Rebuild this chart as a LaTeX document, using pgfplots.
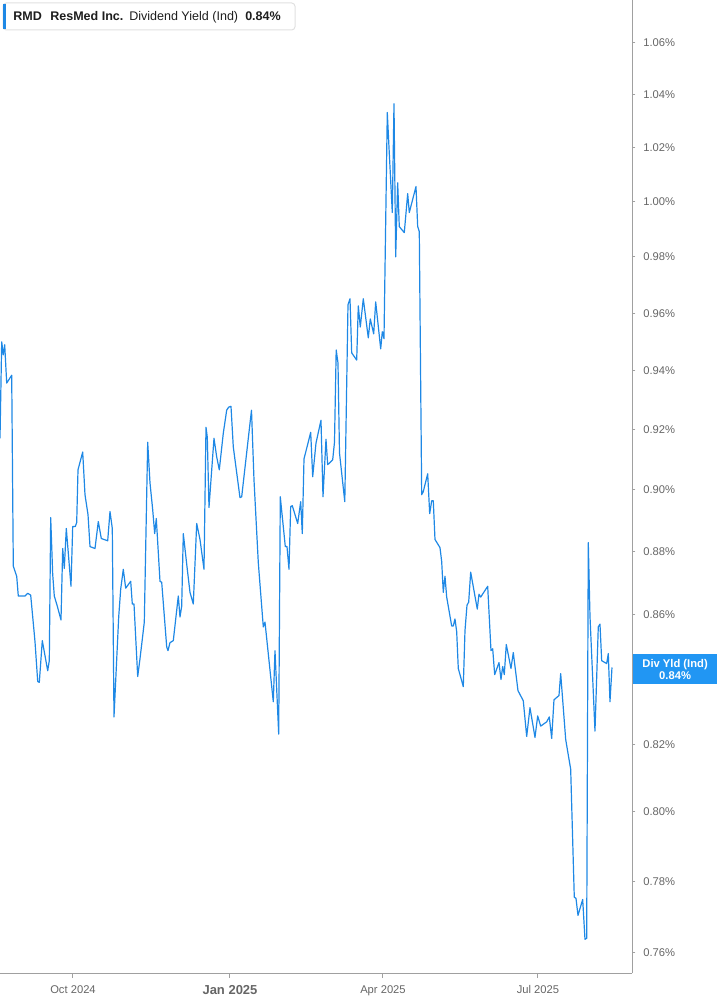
\documentclass[border=0pt]{standalone}
\usepackage{pgfplots}
\pgfplotsset{compat=1.18}
\usepackage{fontspec}
\setmainfont{Liberation Sans}
\definecolor{linecol}{RGB}{30,136,229}
\definecolor{boxcol}{RGB}{33,150,243}
\definecolor{tickgray}{RGB}{102,102,102}
\definecolor{axgray}{RGB}{160,160,160}
\definecolor{legline}{RGB}{225,225,225}
\definecolor{txtdark}{RGB}{30,30,30}

\begin{document}
\begin{tikzpicture}
\begin{axis}[
  scale only axis,
  width=474.2pt,
  height=730pt,
  xmin=0, xmax=632.3,
  ymode=log,
  ymin=0.7542, ymax=1.0765,
  axis x line*=bottom,
  axis y line*=right,
  axis line style={axgray, line width=0.9pt},
  tick align=outside,
  xtick={73,230,383,538},
  xticklabels={Oct 2024,{\fontsize{9.75}{10}\selectfont\bfseries Jan 2025},Apr 2025,Jul 2025},
  ytick={0.76,0.78,0.80,0.82,0.84,0.86,0.88,0.90,0.92,0.94,0.96,0.98,1.00,1.02,1.04,1.06},
  % the 0.84% label sits under the value tag, so it is left empty
  yticklabels={0.76\%,0.78\%,0.80\%,0.82\%,{},0.86\%,0.88\%,0.90\%,0.92\%,0.94\%,0.96\%,0.98\%,1.00\%,1.02\%,1.04\%,1.06\%},
  minor tick num=0,
  xtick style={axgray, line width=0.75pt, /pgfplots/major tick length=3.75pt},
  ytick style={axgray, line width=0.75pt, /pgfplots/major tick length=2.25pt},
  ticklabel style={font=\fontsize{8.4}{10}\selectfont, text=tickgray},
  yticklabel style={anchor=west, xshift=0.5pt},
  xticklabel style={yshift=-1.5pt},
  clip=false,
]
\addplot[linecol, line width=0.9pt, line join=round, mark=none] coordinates {
(0,0.9171) (1.7,0.9500) (3.3,0.9455) (4.7,0.9490) (6.7,0.9358) (11.7,0.9385)
(13.3,0.8752) (16.7,0.8720) (18.3,0.8657) (25,0.8657) (27.7,0.8666) (30.7,0.8660)
(35,0.8514) (37.7,0.8391) (39.3,0.8388) (42.3,0.8517) (47.7,0.8424) (49.3,0.8455)
(50.7,0.8909) (52.7,0.8726) (54.3,0.8657) (57.3,0.8625) (61,0.8582) (62.7,0.8809)
(64.3,0.8745) (66.3,0.8874) (71,0.8688) (72.7,0.8880) (75.3,0.8880) (76.7,0.8893)
(78,0.9066) (82.7,0.9125) (85,0.8984) (88,0.8919) (90,0.8815) (95,0.8809)
(98.3,0.8896) (101.3,0.8841) (107.7,0.8834) (110,0.8929) (112.3,0.8874) (114,0.8283)
(118.7,0.8591) (120.7,0.8679) (123.3,0.8742) (125.7,0.8682) (130.7,0.8704) (132.3,0.8632)
(134,0.8632) (137.7,0.8406) (140,0.8461) (142.7,0.8532) (144.3,0.8575) (147.7,0.9158)
(150,0.9023) (152.7,0.8935) (154.7,0.8857) (156.3,0.8906) (160,0.8704) (161.7,0.8701)
(166.7,0.8498) (168,0.8486) (170,0.8511) (173.3,0.8517) (178.3,0.8657) (180,0.8591)
(181.7,0.8625) (183.3,0.8857) (187.3,0.8742) (190,0.8669) (193.3,0.8632) (196.7,0.8890)
(200,0.8838) (204,0.8742) (206,0.9208) (207.3,0.9175) (209,0.8942) (214,0.9171)
(216.7,0.9109) (219.3,0.9066) (223.3,0.9188) (226.7,0.9266) (228.7,0.9276) (231,0.9279)
(233.3,0.9142) (240,0.8974) (241.7,0.8977) (251.5,0.9266) (254,0.9033) (258.3,0.8764)
(263.3,0.8560) (265,0.8575) (273.3,0.8329) (275,0.8486) (278.7,0.8231) (280.3,0.8977)
(285.3,0.8815) (287,0.8815) (289,0.8742) (290.7,0.8945) (292.3,0.8948) (297.7,0.8890)
(300.7,0.8961) (302.3,0.8857) (304,0.9102) (310.7,0.9191) (312.7,0.9043) (316,0.9155)
(321,0.9232) (323,0.8977) (326,0.9168) (327.7,0.9083) (332.7,0.9099) (334.5,0.9158)
(336.2,0.9472) (338,0.9427) (339.5,0.9122) (344.8,0.8961) (348,0.9630) (350,0.9651)
(351.7,0.9462) (356.7,0.9437) (358.3,0.9626) (360.3,0.9552) (363.3,0.9651) (368.3,0.9514)
(370.3,0.9580) (373.7,0.9528) (375.7,0.9640) (380.7,0.9476) (382.3,0.9535) (384,0.9511)
(387.3,1.0331) (389,1.0201) (392.3,0.9960) (394,1.0364) (395.7,0.9800) (397.7,1.0069)
(399.3,0.9909) (404.3,0.9887) (407.7,1.0029) (409.3,0.9960) (416,1.0055) (417.7,0.9909)
(419.3,0.9891) (421.7,0.8984) (423.3,0.8994) (427.7,0.9053) (429.7,0.8922) (431.7,0.8964)
(433.3,0.8964) (435,0.8838) (440,0.8812) (441.7,0.8767) (443.3,0.8669) (445,0.8720)
(446.7,0.8654) (451.7,0.8563) (453.3,0.8563) (455,0.8585) (456.7,0.8545) (458.3,0.8431)
(463.3,0.8375) (465,0.8548) (467,0.8628) (468.7,0.8638) (470.7,0.8733) (477.3,0.8616)
(479,0.8663) (480.7,0.8654) (487.7,0.8688) (491,0.8486) (492.7,0.8492) (494.7,0.8412)
(499,0.8449) (501,0.8397) (502.7,0.8437) (504.3,0.8412) (506.3,0.8505) (511,0.8431)
(513.3,0.8480) (518,0.8363) (523.3,0.8332) (526.7,0.8224) (530,0.8311) (535,0.8221)
(537.7,0.8286) (540.7,0.8255) (546.7,0.8268) (549.3,0.8283) (551.7,0.8218) (554,0.8335)
(559,0.8348) (560.7,0.8415) (565.7,0.8215) (570.7,0.8126) (574.3,0.7755) (576,0.7752)
(578,0.7704) (582.7,0.7749) (585,0.7637) (586.7,0.7640) (588.3,0.8828) (590,0.8594)
(595,0.8240) (598.3,0.8560) (600,0.8569) (601.7,0.8455) (606.7,0.8446) (608.3,0.8477)
(610,0.8329) (612,0.8434)
};
\coordinate (tl) at (rel axis cs:0,1);
\coordinate (lbl) at (axis cs:632.3,0.8428);
\end{axis}
% value tag on the right axis
\node[fill=boxcol, text=white, anchor=west, minimum width=63pt, minimum height=22.5pt,
  inner sep=0pt, align=center, font=\fontsize{8.4}{9.5}\selectfont\bfseries]
  at ([xshift=0.4pt]lbl) {Div Yld (Ind)\\0.84\%};
% header box
\begin{scope}[shift={(tl)}, x=0.75pt, y=-0.75pt]
  \draw[legline, line width=0.75pt, rounded corners=2.5pt, fill=white] (3,3) rectangle (295,30);
  \fill[linecol] (3,4) rectangle (6,29);
  \begin{scope}[every node/.style={anchor=base west, inner sep=0pt, text=txtdark, font=\fontsize{9.4}{11}\selectfont}]
    \node[font=\fontsize{9.4}{11}\selectfont\bfseries] at (13,21) {RMD};
    \node[font=\fontsize{9.4}{11}\selectfont\bfseries] at (50,21) {ResMed Inc.};
    \node at (129,21) {Dividend Yield (Ind)};
    \node[font=\fontsize{9.4}{11}\selectfont\bfseries] at (245,21) {0.84\%};
  \end{scope}
\end{scope}
\pgfresetboundingbox
\path[use as bounding box] (tl) rectangle ++(537.75pt,-753.75pt);
\end{tikzpicture}
\end{document}
